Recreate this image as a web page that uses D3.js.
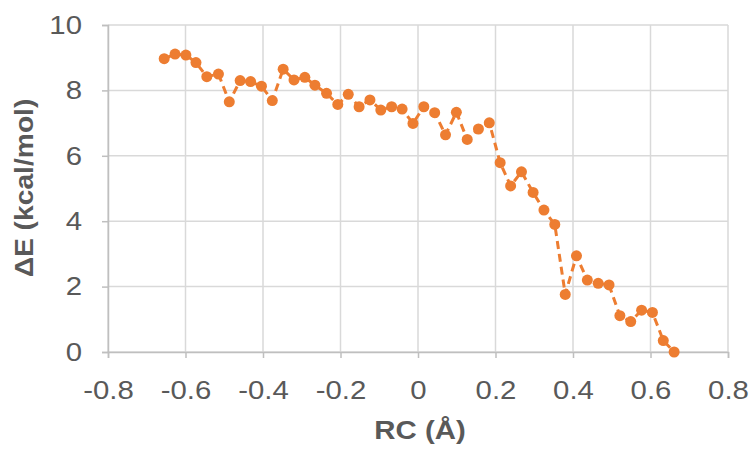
<!DOCTYPE html>
<html><head><meta charset="utf-8">
<script src="https://cdn.jsdelivr.net/npm/d3@7"></script>
<style>body{margin:0;background:#fff;} svg{display:block;}</style>
</head><body>
<svg id="chart" width="756" height="450"></svg>
<script>
const rc = [-0.655,-0.627,-0.599,-0.573,-0.545,-0.515,-0.487,-0.459,-0.432,-0.404,-0.376,-0.348,-0.320,-0.292,-0.266,-0.236,-0.207,-0.180,-0.152,-0.124,-0.096,-0.068,-0.041,-0.013,0.015,0.043,0.071,0.099,0.127,0.156,0.184,0.212,0.239,0.267,0.297,0.325,0.353,0.380,0.409,0.437,0.465,0.493,0.521,0.549,0.577,0.605,0.633,0.661];
const dE = [8.97,9.11,9.08,8.85,8.42,8.50,7.65,8.30,8.27,8.13,7.69,8.65,8.32,8.40,8.16,7.91,7.57,7.88,7.50,7.71,7.40,7.50,7.43,6.99,7.50,7.32,6.64,7.33,6.50,6.82,7.01,5.79,5.08,5.51,4.88,4.34,3.90,1.76,2.94,2.20,2.10,2.05,1.11,0.93,1.28,1.21,0.35,0.00];
const xTicks = [-0.8,-0.6,-0.4,-0.2,0,0.2,0.4,0.6,0.8];
const yTicks = [0,2,4,6,8,10];
const xTitle = "RC (Å)";
const yTitle = "ΔE (kcal/mol)";

const svg = d3.select("#chart");
const L = 108, R = 728, T = 25, B = 352;
const x = d3.scaleLinear().domain([-0.8,0.8]).range([L,R]);
const y = d3.scaleLinear().domain([0,10]).range([B,T]);
const grid = "#d9d9d9", txt = "#595959", col = "#ED7D31";
const font = "Liberation Sans, Arial, sans-serif";
const sx = 1.13;

// gridlines
svg.append("g").selectAll("line").data(xTicks).join("line")
  .attr("x1", d=>x(d)).attr("x2", d=>x(d)).attr("y1", T).attr("y2", B)
  .attr("stroke", grid).attr("stroke-width", 1.5);
svg.append("g").selectAll("line").data(yTicks).join("line")
  .attr("x1", L).attr("x2", R).attr("y1", d=>y(d)).attr("y2", d=>y(d))
  .attr("stroke", grid).attr("stroke-width", 1.5);

// axes
const xAxis = svg.append("g").attr("transform", `translate(0,${B})`)
  .call(d3.axisBottom(x).tickValues(xTicks).tickSize(6).tickPadding(22.5).tickFormat(d=>String(d)));
const yAxis = svg.append("g").attr("transform", `translate(${L},0)`)
  .call(d3.axisLeft(y).tickValues(yTicks).tickSize(6).tickPadding(20).tickFormat(d=>String(d)));
[xAxis, yAxis].forEach(a=>{
  a.select(".domain").attr("stroke", "#bfbfbf").attr("stroke-width", 1.5);
  a.selectAll(".tick line").attr("stroke", "#bfbfbf").attr("stroke-width", 1.5);
  a.selectAll(".tick text").attr("fill", txt).attr("font-size", 26).attr("font-family", font)
    .attr("transform", `scale(${sx},1)`);
});
yAxis.selectAll(".tick text").attr("x", -26/sx);

// line
const line = d3.line().x((d,i)=>x(rc[i])).y(d=>y(d));
svg.append("path").datum(dE).attr("d", line)
  .attr("fill","none").attr("stroke", col).attr("stroke-width", 3)
  .attr("stroke-dasharray", "8,5");
svg.append("g").selectAll("circle").data(dE).join("circle")
  .attr("cx", (d,i)=>x(rc[i])).attr("cy", d=>y(d)).attr("r", 5.5).attr("fill", col);

// titles
svg.append("text").attr("transform", `translate(420,439) scale(${sx},1)`).attr("text-anchor","middle")
  .attr("font-family", font).attr("font-weight","bold").attr("font-size", 26).attr("fill", txt).text(xTitle);
svg.append("text").attr("transform", `translate(33,188) rotate(-90) scale(${sx},1)`).attr("text-anchor","middle")
  .attr("font-family", font).attr("font-weight","bold").attr("font-size", 25).attr("fill", txt).text(yTitle);
</script>
</body></html>
